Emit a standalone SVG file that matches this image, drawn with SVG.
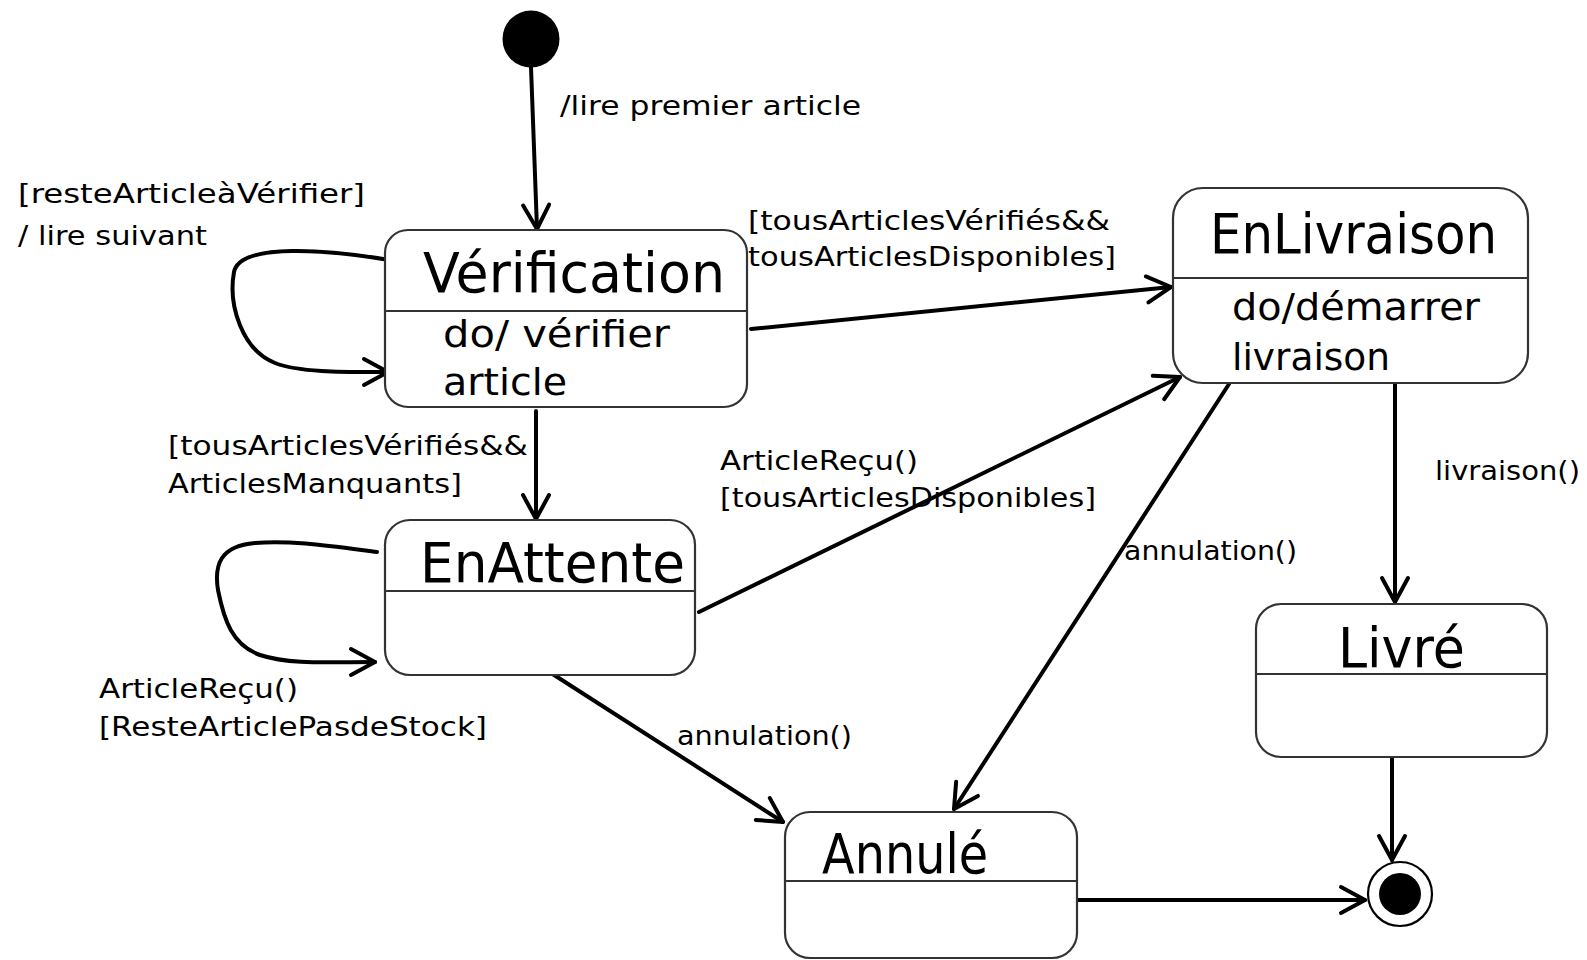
<svg xmlns="http://www.w3.org/2000/svg" width="1587" height="960" viewBox="0 0 1587 960">
<style>
.box{fill:#fff;stroke:#333;stroke-width:2.2}
.div{stroke:#333;stroke-width:2}
.t{font-family:'DejaVu Sans','Liberation Sans',sans-serif;fill:#000}
.title{font-size:55px}
.body{font-size:38px}
.lbl{font-size:26px}
.edge{fill:none;stroke:#000;stroke-width:4;stroke-linecap:round;stroke-linejoin:round}
</style>
<defs>
<marker id="arr" viewBox="-28 -18 32 36" refX="0" refY="0" markerWidth="32" markerHeight="36" markerUnits="userSpaceOnUse" orient="auto">
<path d="M-24,-13 L0,0 L-24,13" fill="none" stroke="#000" stroke-width="4" stroke-linecap="round" stroke-linejoin="round"/>
</marker>
</defs>
<rect width="1587" height="960" fill="#fff"/>

<g id="connectors">
<path class="edge" d="M531,67 L537,229" marker-end="url(#arr)"/>
<path class="edge" d="M389,260 C330,250 240,242 234,272 C228,305 242,350 275,363 C300,373 350,372 388,372" marker-end="url(#arr)"/>
<path class="edge" d="M751,329 L1171,287" marker-end="url(#arr)"/>
<path class="edge" d="M536,411 L536,519" marker-end="url(#arr)"/>
<path class="edge" d="M377,552 C330,546 290,540 255,543 C220,546 214,565 218,590 C224,620 232,645 260,655 C290,665 330,662 375,662" marker-end="url(#arr)"/>
<path class="edge" d="M699,612 L1180,377" marker-end="url(#arr)"/>
<path class="edge" d="M551,673 L783,822" marker-end="url(#arr)"/>
<path class="edge" d="M1229,384 L954,809" marker-end="url(#arr)"/>
<path class="edge" d="M1395,384 L1395,602" marker-end="url(#arr)"/>
<path class="edge" d="M1392,758 L1392,860" marker-end="url(#arr)"/>
<path class="edge" d="M1078,900 L1365,900" marker-end="url(#arr)"/>
<text class="t lbl" x="560" y="115" textLength="301" lengthAdjust="spacingAndGlyphs">/lire premier article</text>
<text class="t lbl" x="18" y="203" textLength="347" lengthAdjust="spacingAndGlyphs">[resteArticleàVérifier]</text>
<text class="t lbl" x="18" y="245" textLength="189" lengthAdjust="spacingAndGlyphs">/ lire suivant</text>
<text class="t lbl" x="748" y="230" textLength="362" lengthAdjust="spacingAndGlyphs">[tousArticlesVérifiés&amp;&amp;</text>
<text class="t lbl" x="748" y="266" textLength="368" lengthAdjust="spacingAndGlyphs">tousArticlesDisponibles]</text>
<text class="t lbl" x="168" y="455" textLength="360" lengthAdjust="spacingAndGlyphs">[tousArticlesVérifiés&amp;&amp;</text>
<text class="t lbl" x="168" y="493" textLength="294" lengthAdjust="spacingAndGlyphs">ArticlesManquants]</text>
<text class="t lbl" x="99" y="698" textLength="199" lengthAdjust="spacingAndGlyphs">ArticleReçu()</text>
<text class="t lbl" x="99" y="736" textLength="388" lengthAdjust="spacingAndGlyphs">[ResteArticlePasdeStock]</text>
<text class="t lbl" x="720" y="470" textLength="198" lengthAdjust="spacingAndGlyphs">ArticleReçu()</text>
<text class="t lbl" x="720" y="507" textLength="376" lengthAdjust="spacingAndGlyphs">[tousArticlesDisponibles]</text>
<text class="t lbl" x="1124" y="560" textLength="173" lengthAdjust="spacingAndGlyphs">annulation()</text>
<text class="t lbl" x="1435" y="480" textLength="145" lengthAdjust="spacingAndGlyphs">livraison()</text>
<text class="t lbl" x="677" y="745" textLength="175" lengthAdjust="spacingAndGlyphs">annulation()</text>
</g>

<g id="initial">
<circle cx="531" cy="39" r="28.5" fill="#000"/>
</g>

<g id="verification">
<rect class="box" x="385" y="230" width="362" height="177" rx="23"/>
<line class="div" x1="385" y1="311" x2="747" y2="311"/>
<text class="t title" x="423" y="292" textLength="302" lengthAdjust="spacingAndGlyphs">Vérification</text>
<text class="t body" x="443" y="347" textLength="227" lengthAdjust="spacingAndGlyphs">do/ vérifier</text>
<text class="t body" x="443" y="395" textLength="124" lengthAdjust="spacingAndGlyphs">article</text>
</g>

<g id="enlivraison">
<rect class="box" x="1173" y="188" width="355" height="195" rx="30"/>
<line class="div" x1="1173" y1="278" x2="1528" y2="278"/>
<text class="t title" x="1210" y="253" font-size="56" textLength="287" lengthAdjust="spacingAndGlyphs">EnLivraison</text>
<text class="t body" x="1232" y="320" textLength="248" lengthAdjust="spacingAndGlyphs">do/démarrer</text>
<text class="t body" x="1232" y="370" textLength="158" lengthAdjust="spacingAndGlyphs">livraison</text>
</g>

<g id="enattente">
<rect class="box" x="385" y="520" width="310" height="155" rx="25"/>
<line class="div" x1="385" y1="591" x2="695" y2="591"/>
<text class="t title" x="420" y="582" textLength="265" lengthAdjust="spacingAndGlyphs">EnAttente</text>
</g>

<g id="livre">
<rect class="box" x="1256" y="604" width="291" height="153" rx="25"/>
<line class="div" x1="1256" y1="674" x2="1547" y2="674"/>
<text class="t title" x="1338" y="667" textLength="127" lengthAdjust="spacingAndGlyphs">Livré</text>
</g>

<g id="annule">
<rect class="box" x="785" y="812" width="292" height="146" rx="25"/>
<line class="div" x1="785" y1="881" x2="1077" y2="881"/>
<text class="t title" x="822" y="873" textLength="166" lengthAdjust="spacingAndGlyphs">Annulé</text>
</g>

<g id="final">
<circle cx="1400" cy="894" r="32" fill="#fff" stroke="#000" stroke-width="2.2"/>
<circle cx="1400" cy="894" r="21" fill="#000"/>
</g>
</svg>
